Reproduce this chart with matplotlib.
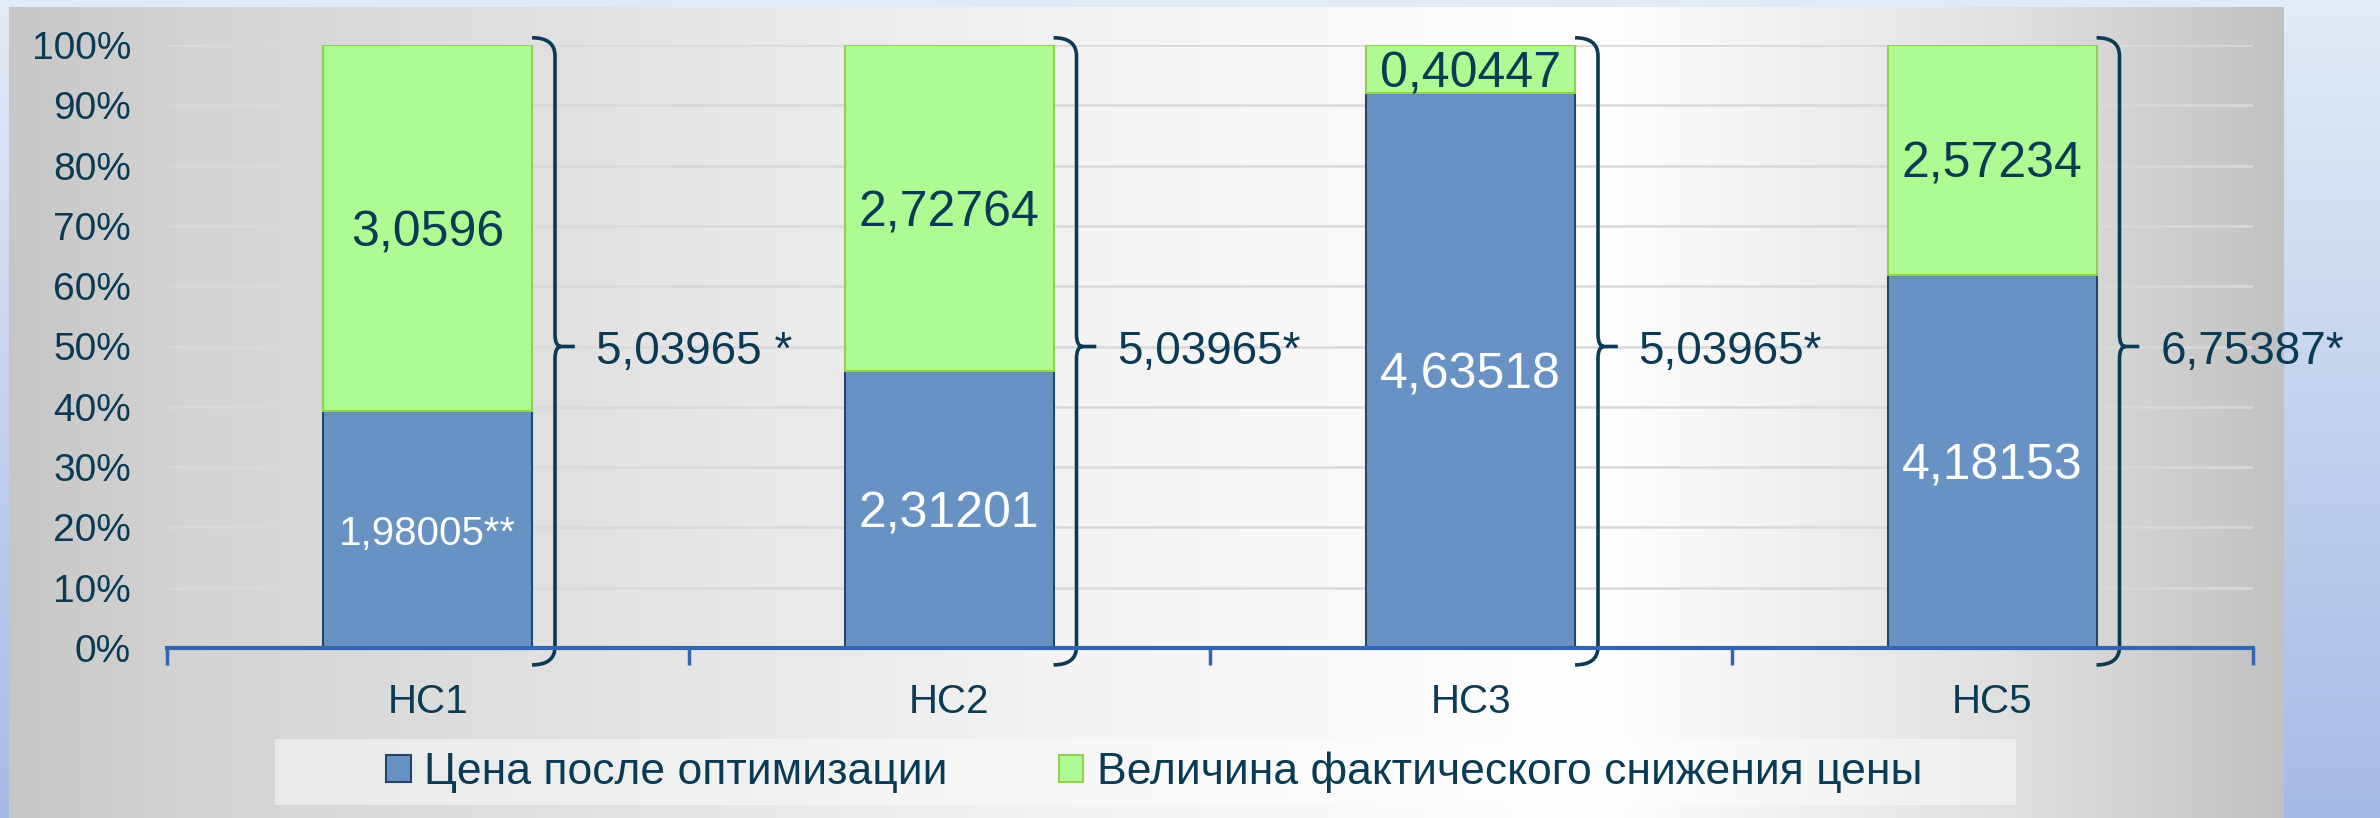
import numpy as np
import matplotlib
matplotlib.use('Agg')
import matplotlib.pyplot as plt
from matplotlib.path import Path
from matplotlib.patches import PathPatch, Patch, Rectangle

plt.rcParams['font.family'] = ['Liberation Sans', 'DejaVu Sans']

categories = ['НС1', 'НС2', 'НС3', 'НС5']
price_after = [1.98005, 2.31201, 4.63518, 4.18153]
price_drop = [3.0596, 2.72764, 0.40447, 2.57234]
after_suffix = ['**', '', '', '']
total_suffix = [' *', '*', '*', '*']
series_names = ['Цена после оптимизации', 'Величина фактического снижения цены']

text_col = '#0B3A55'
blue = '#6892C4'
green = '#AFFB93'

W, H = 2380, 818
fig = plt.figure(figsize=(W / 100, H / 100), dpi=100)

# background: bluish frame + grey-white-grey panel
bg = fig.add_axes([0, 0, 1, 1], zorder=-5)
bg.set_xlim(0, W)
bg.set_ylim(H, 0)
bg.axis('off')
t = np.linspace(0, 1, 256)
top = np.array([0.89, 0.92, 0.965])
bot = np.array([0.65, 0.73, 0.90])
outer = top[None, :] + (bot - top)[None, :] * t[:, None]
outer = np.repeat(outer[:, None, :], 2, axis=1)
bg.imshow(outer, extent=(0, W, H, 0), aspect='auto')
xs = np.linspace(0, 1, 512)
grey = np.interp(xs, [0, 0.08, 0.45, 0.70, 0.88, 1], [0.78, 0.83, 0.95, 1.0, 0.88, 0.76])
panel = np.repeat(np.repeat(grey[None, :, None], 3, axis=2), 2, axis=0)
bg.imshow(panel, extent=(9, 2284, H, 7), aspect='auto')

ax = fig.add_axes([167 / W, (H - 648) / H, (2253 - 167) / W, (648 - 45) / H])
ax.set_facecolor('none')

after = np.array(price_after)
drop = np.array(price_drop)
totals = after + drop
p_after = after / totals * 100
p_drop = drop / totals * 100
x = np.arange(len(categories))
bw = 0.40

ax.bar(x, p_after, bw, color=blue, edgecolor='#24466B', linewidth=1.5, zorder=3)
ax.bar(x, p_drop, bw, bottom=p_after, color=green, edgecolor='#92D050', linewidth=1.5, zorder=3)

for i in range(len(categories)):
    s = str(price_after[i]).replace('.', ',') + after_suffix[i]
    fs = 29 if after_suffix[i] else 36
    ax.text(x[i], p_after[i] / 2, s, ha='center', va='center_baseline', color='white',
            fontsize=fs, zorder=4)
    s2 = str(price_drop[i]).replace('.', ',')
    ax.text(x[i], p_after[i] + p_drop[i] / 2, s2, ha='center', va='center_baseline',
            color=text_col, fontsize=36, zorder=4)

    # curly brace to the right of the bar
    x0 = x[i] + bw / 2
    xv = x0 + 0.044
    xt = xv + 0.038
    yt, yb, ym = 101.2, -2.8, 50
    verts = [(x0, yt), (xv, yt), (xv, yt - 3),
             (xv, ym + 2), (xv, ym), (xv + 0.012, ym),
             (xt, ym),
             (xv + 0.012, ym), (xv, ym), (xv, ym - 2),
             (xv, yb + 3), (xv, yb), (x0, yb)]
    codes = [Path.MOVETO, Path.CURVE3, Path.CURVE3,
             Path.LINETO, Path.CURVE3, Path.CURVE3,
             Path.LINETO,
             Path.MOVETO, Path.CURVE3, Path.CURVE3,
             Path.LINETO, Path.CURVE3, Path.CURVE3]
    ax.add_patch(PathPatch(Path(verts, codes), fill=False, edgecolor=text_col,
                           linewidth=2.6, clip_on=False, zorder=4))
    lab = f'{totals[i]:.5f}'.replace('.', ',') + total_suffix[i]
    ax.text(xt + 0.04, ym, lab, ha='left', va='center_baseline', color=text_col,
            fontsize=33, clip_on=False)

ax.set_xlim(-0.5, len(categories) - 0.5)
ax.set_ylim(0, 100)
ax.set_yticks(np.arange(0, 101, 10))
ax.set_yticklabels([f'{v}%' for v in range(0, 101, 10)])
ax.set_xticks(x)
ax.set_xticklabels(categories)
ax.set_xticks(np.arange(-0.5, len(categories), 1), minor=True)
ax.tick_params(axis='y', length=0, pad=26, labelsize=28, labelcolor=text_col)
ax.tick_params(axis='x', which='major', length=0, pad=25, labelsize=29, labelcolor=text_col)
ax.tick_params(axis='x', which='minor', length=12, width=2.5, color='#3465B0')
ax.grid(axis='y', color='#D9D9D9', linewidth=1.8, zorder=0)
ax.set_axisbelow(True)
for side in ['left', 'right', 'top']:
    ax.spines[side].set_visible(False)
ax.spines['bottom'].set_color('#3465B0')
ax.spines['bottom'].set_linewidth(3)
ax.spines['bottom'].set_zorder(5)

# legend
fig.patches.append(Rectangle((275 / W, 13 / H), (2016 - 275) / W, 66 / H,
                             transform=fig.transFigure, facecolor='white',
                             alpha=0.45, edgecolor='none', zorder=-1))
handles = [Patch(facecolor=blue, edgecolor='#24466B', linewidth=1.5),
           Patch(facecolor=green, edgecolor='#92D050', linewidth=1.5)]
fig.legend(handles, series_names, loc='center', ncol=2, frameon=False,
           bbox_to_anchor=(1154 / W, 46 / H), fontsize=32,
           labelcolor=text_col, handlelength=0.56, handleheight=0.56,
           handletextpad=0.3, columnspacing=2.5)

fig.savefig('out.png', dpi=100)
